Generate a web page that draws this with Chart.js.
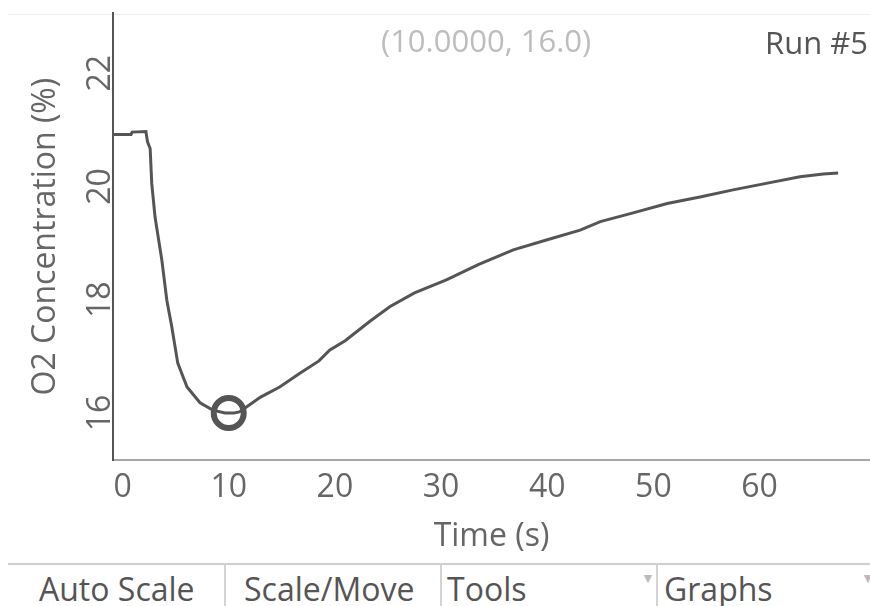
<!DOCTYPE html>
<html>
<head>
<meta charset="utf-8">
<script src="https://cdn.jsdelivr.net/npm/chart.js@4.4.0/dist/chart.umd.min.js"></script>
<style>
  html, body { margin: 0; padding: 0; background: #fff; }
  body { width: 870px; height: 606px; position: relative; overflow: hidden; font-family: "Open Sans", sans-serif; }
  #wrap { position: absolute; left: 0; top: 0; width: 870px; height: 563px; }
  .topline { position: absolute; left: 8px; right: 0; top: 14px; border-top: 1px solid #eee; }
  .readout { position: absolute; left: 381px; top: 20px; font-size: 31px; line-height: 40px; color: #bdbdbd; }
  .run { position: absolute; right: 2px; top: 22px; font-size: 31px; line-height: 40px; color: #555; }
  .toolbar { position: absolute; left: 8px; right: 0; top: 563px; height: 43px; border-top: 2px solid #cfcfcf; }
  .tb { position: absolute; top: 0; height: 43px; font-size: 32px; line-height: 48px; color: #555; }
  .sep { position: absolute; top: 0; width: 0; height: 43px; border-left: 2px solid #d4d4d4; }
  .arrow { position: absolute; top: 3px; font-size: 14px; color: #bbb; }
</style>
</head>
<body>
<div class="topline"></div>
<div id="wrap"><canvas id="chart" width="870" height="563"></canvas></div>
<div class="readout">(10.0000, 16.0)</div>
<div class="run">Run #5</div>
<div class="toolbar">
  <div class="tb" style="left:31px">Auto Scale</div>
  <div class="sep" style="left:216px"></div>
  <div class="tb" style="left:236px">Scale/Move</div>
  <div class="sep" style="left:432px"></div>
  <div class="tb" style="left:439px">Tools</div>
  <div class="arrow" style="left:633px">&#9660;</div>
  <div class="sep" style="left:648px"></div>
  <div class="tb" style="left:656px">Graphs</div>
  <div class="arrow" style="left:853px">&#9660;</div>
</div>
<script>
// ========== DATA ========== //
const times = [-0.9, 0.8, 0.9, 2.2, 2.35, 2.6, 2.75, 3.06, 3.7, 4.17, 4.64, 5.2, 6.07, 7.3, 8.5, 9.65,
  10.5, 11.0, 11.7, 13.0, 14.8, 16.7, 18.5, 19.5, 21.0, 23.3, 25.2, 27.5, 30.5, 33.5, 36.8, 40.0,
  43.1, 45.0, 48.0, 51.3, 54.5, 57.5, 60.5, 63.8, 66.0, 67.4];
const o2 = [20.92, 20.92, 20.96, 20.97, 20.79, 20.67, 20.05, 19.46, 18.70, 17.99, 17.52, 16.88, 16.46, 16.18, 16.05, 16.00,
  16.00, 16.02, 16.11, 16.28, 16.46, 16.70, 16.92, 17.11, 17.28, 17.62, 17.88, 18.12, 18.35, 18.62, 18.88, 19.06,
  19.23, 19.38, 19.53, 19.70, 19.82, 19.94, 20.05, 20.17, 20.22, 20.24];
const markerTime = [10.0];
const markerO2 = [16.0];
const xTicks = [0, 10, 20, 30, 40, 50, 60];
const yTicks = [16, 18, 20, 22];

const tickFont = { family: "Open Sans", size: 32 };
const ink = "#555";
const labelInk = "#666";

// ========== CHART ========== //
const ctx = document.getElementById("chart").getContext("2d");
new Chart(ctx, {
  type: "scatter",
  data: {
    datasets: [
      {
        data: times.map((t, i) => ({ x: t, y: o2[i] })),
        showLine: true,
        borderColor: ink,
        borderWidth: 3,
        pointRadius: 0,
        tension: 0
      },
      {
        data: markerTime.map((t, i) => ({ x: t, y: markerO2[i] })),
        showLine: false,
        pointRadius: 15,
        pointBorderWidth: 6,
        pointBorderColor: ink,
        pointBackgroundColor: "rgba(0,0,0,0)"
      }
    ]
  },
  options: {
    responsive: false,
    animation: false,
    layout: { autoPadding: false, padding: { top: 13, left: 0, right: 0, bottom: 0 } },
    plugins: { legend: { display: false }, tooltip: { enabled: false } },
    scales: {
      x: {
        type: "linear",
        min: -0.9,
        max: 70.4,
        afterBuildTicks: s => { s.ticks = xTicks.map(v => ({ value: v })); },
        afterFit: s => { s.height = 103; },
        grid: { display: false, drawTicks: false },
        border: { display: true, color: "#a8a8a8", width: 2 },
        ticks: { font: tickFont, color: labelInk, padding: 9, maxRotation: 0 },
        title: { display: true, text: "Time (s)", font: tickFont, color: labelInk, padding: { top: 0, bottom: 7 } }
      },
      y: {
        min: 15.17,
        max: 23.06,
        afterBuildTicks: s => { s.ticks = yTicks.map(v => ({ value: v })); },
        afterFit: s => { s.width = 113; },
        grid: { display: false, drawTicks: false },
        border: { display: true, color: ink, width: 2 },
        ticks: { font: tickFont, color: labelInk, padding: -6, minRotation: 90, maxRotation: 90, crossAlign: "center" },
        title: { display: true, text: "O2 Concentration (%)", font: tickFont, color: labelInk, padding: { top: 27, bottom: 0 } }
      }
    }
  }
});
</script>
</body>
</html>
